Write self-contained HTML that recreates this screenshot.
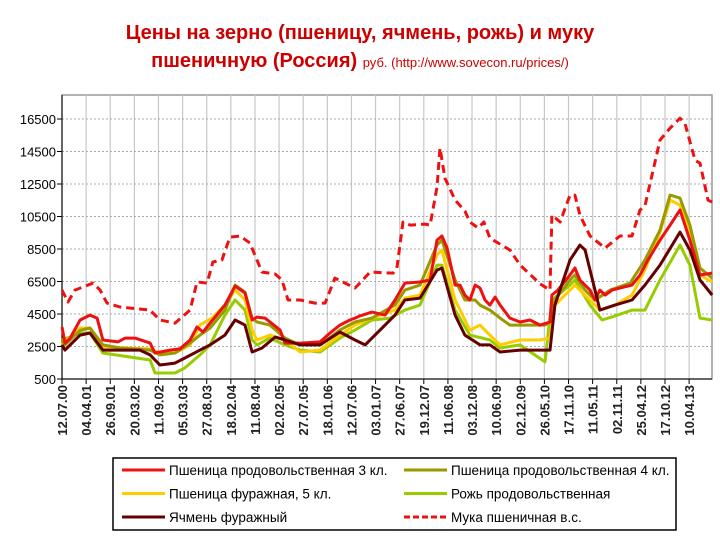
<!DOCTYPE html>
<html><head><meta charset="utf-8"><style>
body{margin:0;background:#fff;width:720px;height:540px;overflow:hidden;font-family:"Liberation Sans",sans-serif}
.t1{position:absolute;left:0;width:720px;text-align:center;color:#cc0000;font-weight:bold;font-size:20px}
</style></head><body>
<div class="t1" style="top:22px">Цены на зерно (пшеницу, ячмень, рожь) и муку</div>
<div class="t1" style="top:50px">пшеничную (Россия) <span style="font-size:13px;font-weight:normal">руб. (http://www.sovecon.ru/prices/)</span></div>
<svg id="c" width="720" height="540" style="position:absolute;left:0;top:0"></svg>
<script>
const yTicks=[500,2500,4500,6500,8500,10500,12500,14500,16500];
const xLabels=["12.07.00","04.04.01","26.09.01","20.03.02","11.09.02","05.03.03","27.08.03","18.02.04","11.08.04","02.02.05","27.07.05","18.01.06","12.07.06","03.01.07","27.06.07","19.12.07","11.06.08","03.12.08","10.06.09","02.12.09","26.05.10","17.11.10","11.05.11","02.11.11","25.04.12","17.10.12","10.04.13"];
const flourT=[0,0.22,0.47,1.13,1.39,1.64,2.11,3.21,3.57,4.12,4.67,4.92,5.29,5.5,5.83,6.12,6.49,6.85,7.11,7.29,7.77,8.02,8.24,8.68,9.22,9.59,9.95,10.32,10.68,10.86,11.23,12.07,12.21,12.43,12.69,13.23,13.42,13.67,13.78,13.96,14.33,14.69,14.87,15.17,15.38,15.6,16.33,16.7,17.43,17.79,17.86,18.16,18.52,18.7,18.88,19.25,19.8,20.34,20.78,21.07,21.25,21.8,22.17,22.53,22.71,23.08,23.26,23.55,23.7];
const flourV=[5970,5240,5970,6400,5970,5170,4930,4740,4130,3940,4740,6470,6400,7700,7820,9230,9300,8870,7820,7080,6960,6590,5360,5360,5170,5170,6710,6400,6100,6400,7080,7020,7330,10160,9970,10030,9970,12310,14710,12870,11510,10840,10160,9790,10160,9170,8440,7510,6350,5970,10590,10160,11820,11820,10590,9300,8560,9300,9300,10900,11140,15200,15940,16550,16240,13960,13780,11510,11390];
const w3T=[0,0.11,0.29,0.66,1.02,1.28,1.49,2.04,2.3,2.66,3.21,3.39,3.94,4.3,4.67,4.92,5.14,5.4,5.94,6.31,6.67,6.93,7.11,7.4,7.95,8.13,8.68,9.41,9.77,10.13,10.5,10.68,10.86,11.3,11.78,12.14,12.5,13.05,13.42,13.67,13.85,14.04,14.33,14.51,14.69,14.87,15.06,15.24,15.42,15.6,15.79,15.97,16.33,16.7,17.06,17.43,17.79,17.86,18.08,18.52,18.7,18.88,19.25,19.43,19.61,19.8,20.05,20.34,20.78,21.07,21.36,21.8,22.17,22.53,22.89,23.26,23.7];
const w3V=[3700,2710,3000,4130,4430,4250,2900,2780,3020,3020,2710,2100,2280,2350,2900,3700,3390,3940,5050,6220,5790,4130,4310,4250,3510,2710,2710,2780,3330,3820,4130,4250,4380,4620,4430,5360,6400,6470,6590,9050,9300,8560,6280,6280,5660,5360,6280,6100,5360,5050,5540,5050,4250,4010,4130,3820,4010,5670,5970,6900,7330,6590,5970,5360,5970,5660,5970,6100,6280,6900,7820,9050,9970,10900,9050,6900,7020];
const w4T=[0,0.11,0.66,1.02,1.49,2.11,3.21,3.57,4.12,4.67,5.03,5.4,5.94,6.31,6.67,6.93,7.11,7.58,8.13,8.68,9.41,10.13,10.68,11.3,12.14,12.5,13.05,13.67,13.85,14.33,14.69,15.06,15.24,15.6,15.97,16.33,17.06,17.61,17.79,17.97,18.52,18.7,19.07,19.43,19.98,20.71,21.25,21.8,22.17,22.53,22.89,23.26,23.7];
const w4V=[2900,2600,3500,3640,2600,2410,2280,1980,2100,2710,3200,3640,4740,6280,5850,4250,4010,3820,3020,2600,2600,3510,4010,4250,5050,5970,6280,8740,9050,6590,5360,5360,5050,4740,4250,3820,3820,3820,4010,5360,6590,6900,5970,5360,5970,6400,7820,9660,11820,11630,9970,7330,6710];
const w5T=[0,0.66,1.02,1.49,3.21,3.57,4.12,4.67,5.03,5.47,5.94,6.31,6.67,6.93,7.11,7.58,8.13,8.68,9.41,10.13,10.68,11.3,12.14,12.5,13.05,13.67,13.85,14.33,14.87,15.24,15.6,15.97,16.7,17.43,17.79,17.97,18.52,18.7,19.25,19.61,20.16,20.78,21.25,21.8,22.17,22.53,22.89,23.26,23.7];
const w5V=[2600,3640,3640,2470,2350,2100,2100,2600,3820,4250,5050,5970,5360,3510,2900,3200,2900,2160,2280,3200,3820,4250,4740,5480,5660,8130,8440,5360,3510,3820,3200,2600,2900,2900,3020,5050,5970,6280,5360,4740,5050,5660,7210,9540,11510,11200,9670,6900,6470];
const ryeT=[0,0.66,1.02,1.49,3.21,3.39,4.12,4.48,5.03,5.4,5.94,6.31,6.67,6.93,7.11,7.58,8.13,8.68,9.41,10.13,10.68,11.3,11.96,12.5,13.05,13.67,13.85,14.33,14.87,15.6,15.97,16.7,17.61,17.86,18.52,18.7,19.25,19.69,20.16,20.78,21.25,21.8,22.53,22.89,23.26,23.7];
const ryeV=[2900,3330,3330,2100,1670,870,870,1180,1980,2600,4430,5360,4740,2900,2600,3020,2600,2280,2160,3020,3510,4130,4250,4740,5050,7510,7510,4740,3200,2900,2410,2600,1550,5360,6280,6590,5050,4130,4380,4740,4740,6590,8740,7510,4250,4130];
const barT=[0,0.11,0.66,1.02,1.49,2.84,3.21,3.57,4.12,4.48,5.03,5.4,5.94,6.31,6.67,6.93,7.29,7.77,8.13,8.68,9.41,10.13,10.68,11.05,11.3,12.14,12.5,13.05,13.67,13.85,14.33,14.69,15.24,15.6,15.97,16.7,17.79,17.97,18.52,18.88,19.07,19.61,20.16,20.78,21.25,21.8,22.53,22.89,23.26,23.7];
const barV=[2600,2280,3200,3330,2280,2280,1980,1360,1480,1790,2280,2600,3200,4130,3820,2160,2410,3080,2900,2600,2600,3390,2900,2600,3020,4430,5360,5480,7200,7330,4430,3200,2600,2600,2160,2280,2280,5050,7820,8740,8440,4740,5050,5360,6280,7510,9540,8440,6590,5670];

const NS="http://www.w3.org/2000/svg",svg=document.getElementById('c');
const L=62,R=712,T=95,B=379,X0=62,DX=27.43,LBLDX=24.12;
const y=v=>B-(v-500)*260/16000, x=t=>X0+t*DX, xl=i=>X0+i*LBLDX;
function mk(tag,a,parent){const e=document.createElementNS(NS,tag);for(const k in a)e.setAttribute(k,a[k]);(parent||svg).appendChild(e);return e;}
const fr=mk('rect',{x:L,y:T,width:R-L,height:B-T,fill:'#fff',stroke:'#999','stroke-width':1.5});

xLabels.forEach((lab,i)=>{const px=xl(i);if(px>R)return;
 const g=mk('line',{x1:px,x2:px,y1:T,y2:B,stroke:'#c8c8c8','stroke-width':1.2});
 
 mk('line',{x1:px,x2:px,y1:B,y2:B+5,stroke:'#000'});
 const t=mk('text',{x:0,y:0,transform:`translate(${px+5},${B+6}) rotate(-90)`,'text-anchor':'end','font-size':13,'font-weight':'bold',fill:'#222'});
 t.textContent=lab;});
yTicks.forEach(v=>{const py=y(v);
 if(v>500){const g=mk('line',{x1:L,x2:R,y1:py,y2:py,stroke:'#aaa','stroke-dasharray':'2,2'});
 }
 mk('line',{x1:L-5,x2:L,y1:py,y2:py,stroke:'#000'});
 const t=mk('text',{x:L-6,y:py+5,'text-anchor':'end','font-size':13,fill:'#000'});
 t.textContent=v;});
mk('line',{x1:L,x2:L,y1:T,y2:B,stroke:'#000'});mk('line',{x1:L,x2:R,y1:B,y2:B,stroke:'#000'});
function series(ts,vs,color,name,dash){const d=ts.map((t,i)=>(i?'L':'M')+x(t).toFixed(1)+','+y(vs[i]).toFixed(1)).join('');
 const p=mk('path',{d:d,fill:'none',stroke:color,'stroke-width':3,'stroke-linejoin':'round'});
 if(dash)p.setAttribute('stroke-dasharray',dash);
 }
series(ryeT,ryeV,'#99cc00','series-rye');
series(w5T,w5V,'#ffcc00','series-wheat-5');
series(w4T,w4V,'#999900','series-wheat-4');
series(w3T,w3V,'#ee1111','series-wheat-3');
series(barT,barV,'#660000','series-barley');
series(flourT,flourV,'#ee1111','series-flour','8,5');
const lg=mk('g',{});
mk('rect',{x:113,y:458,width:563,height:72,fill:'#fff',stroke:'#000','stroke-width':1.5},lg);
const ent=[["Пшеница продовольственная 3 кл.",'#ee1111',0,0,''],["Пшеница продовольственная 4 кл.",'#999900',1,0,''],["Пшеница фуражная, 5 кл.",'#ffcc00',0,1,''],["Рожь продовольственная",'#99cc00',1,1,''],["Ячмень фуражный",'#660000',0,2,''],["Мука пшеничная в.с.",'#ee1111',1,2,'6,3']];
ent.forEach(e=>{const lx=e[2]?404:122,ly=470+e[3]*23.5;
 const g=mk('g',{},lg);
 const l=mk('line',{x1:lx,x2:lx+43,y1:ly,y2:ly,stroke:e[1],'stroke-width':3},g);if(e[4])l.setAttribute('stroke-dasharray',e[4]);
 const t=mk('text',{x:lx+47,y:ly+5,'font-size':13.5,fill:'#000'},g);t.textContent=e[0];});
</script>
</body></html>
